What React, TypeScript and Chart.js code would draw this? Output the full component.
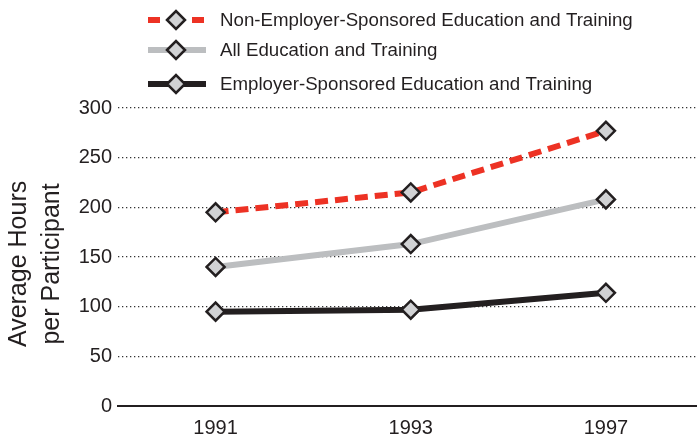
import React, { useEffect, useRef } from "react";
import { Chart, registerables } from "chart.js";

Chart.register(...registerables);

const years = ["1991", "1993", "1997"];
const nonEmployer = [195, 215, 277];
const allTraining = [140, 163, 208];
const employer = [95, 97, 114];
const yTicks = [0, 50, 100, 150, 200, 250, 300];
const seriesNames = [
  "Non-Employer-Sponsored Education and Training",
  "All Education and Training",
  "Employer-Sponsored Education and Training",
];
const yTitle = ["Average Hours  ", "per Participant  "];

const FONT = "'Liberation Sans', Arial, Helvetica, sans-serif";
const INK = "#231f20";
const MARKER_FILL = "#d1d2d4";

const legendPlugin = {
  id: "customLegend",
  afterDraw(chart: any) {
    const ctx = chart.ctx;
    const rows = [20, 50, 84];
    ctx.save();
    chart.data.datasets.forEach((ds: any, i: number) => {
      const y = rows[i];
      ctx.beginPath();
      ctx.strokeStyle = ds.borderColor;
      ctx.lineWidth = ds.borderWidth;
      ctx.setLineDash(ds.borderDash && ds.borderDash.length ? [12, 32] : []);
      ctx.moveTo(148, y);
      ctx.lineTo(206, y);
      ctx.stroke();
      ctx.setLineDash([]);
      const r = 9;
      const cx = 176;
      ctx.beginPath();
      ctx.moveTo(cx - r, y);
      ctx.lineTo(cx, y - r);
      ctx.lineTo(cx + r, y);
      ctx.lineTo(cx, y + r);
      ctx.closePath();
      ctx.fillStyle = MARKER_FILL;
      ctx.fill();
      ctx.lineWidth = 2.5;
      ctx.strokeStyle = INK;
      ctx.stroke();
      ctx.fillStyle = INK;
      ctx.font = `18.7px ${FONT}`;
      ctx.textBaseline = "middle";
      ctx.textAlign = "left";
      ctx.fillText(ds.label, 220, y + 1);
    });
    ctx.restore();
  },
};

export default function App() {
  const ref = useRef<HTMLCanvasElement>(null);
  useEffect(() => {
    if (!ref.current) return;
    const point = {
      pointStyle: "rectRot",
      pointRadius: 9,
      pointHoverRadius: 9,
      pointBackgroundColor: MARKER_FILL,
      pointBorderColor: INK,
      pointBorderWidth: 2.5,
    };
    const chart = new Chart(ref.current, {
      type: "line",
      data: {
        labels: years,
        datasets: [
          {
            label: seriesNames[0],
            data: nonEmployer,
            borderColor: "#ed3224",
            borderWidth: 6,
            borderDash: [13, 7],
            ...point,
          },
          {
            label: seriesNames[1],
            data: allTraining,
            borderColor: "#bcbec0",
            borderWidth: 6,
            ...point,
          },
          {
            label: seriesNames[2],
            data: employer,
            borderColor: INK,
            borderWidth: 6,
            ...point,
          },
        ] as any,
      },
      options: {
        responsive: true,
        maintainAspectRatio: false,
        animation: false,
        devicePixelRatio: 1,
        layout: { padding: { top: 108, left: 0, right: 0, bottom: 0 } },
        plugins: { legend: { display: false }, tooltip: { enabled: false } },
        scales: {
          x: {
            offset: true,
            grid: { display: false, drawTicks: false },
            border: { display: true, color: INK, width: 2 },
            ticks: { color: INK, font: { family: FONT, size: 20 }, padding: 10 },
            afterFit: (s: any) => {
              s.height = 30;
            },
          },
          y: {
            min: 0,
            max: 300,
            afterBuildTicks: (s: any) => {
              s.ticks = yTicks.map((v) => ({ value: v }));
            },
            grid: {
              drawTicks: false,
              color: (c: any) => (c.tick && c.tick.value === 0 ? "rgba(0,0,0,0)" : "#333333"),
              lineWidth: 1.3,
            },
            border: { display: false, dash: [1.3, 2.7] },
            ticks: { color: INK, font: { family: FONT, size: 20 }, padding: 6 },
            title: {
              display: true,
              text: yTitle,
              color: INK,
              font: { family: FONT, size: 25, lineHeight: 1.3 },
              padding: { top: 3, bottom: 0 },
            },
            afterFit: (s: any) => {
              s.width = 118;
            },
          },
        },
      } as any,
      plugins: [legendPlugin],
    });
    return () => chart.destroy();
  }, []);
  return (
    <div style={{ position: "fixed", left: 0, top: 0, width: 697, height: 436, overflow: "hidden", background: "#fff" }}>
      <div style={{ position: "relative", width: 715, height: 436 }}>
        <canvas ref={ref} />
      </div>
    </div>
  );
}
